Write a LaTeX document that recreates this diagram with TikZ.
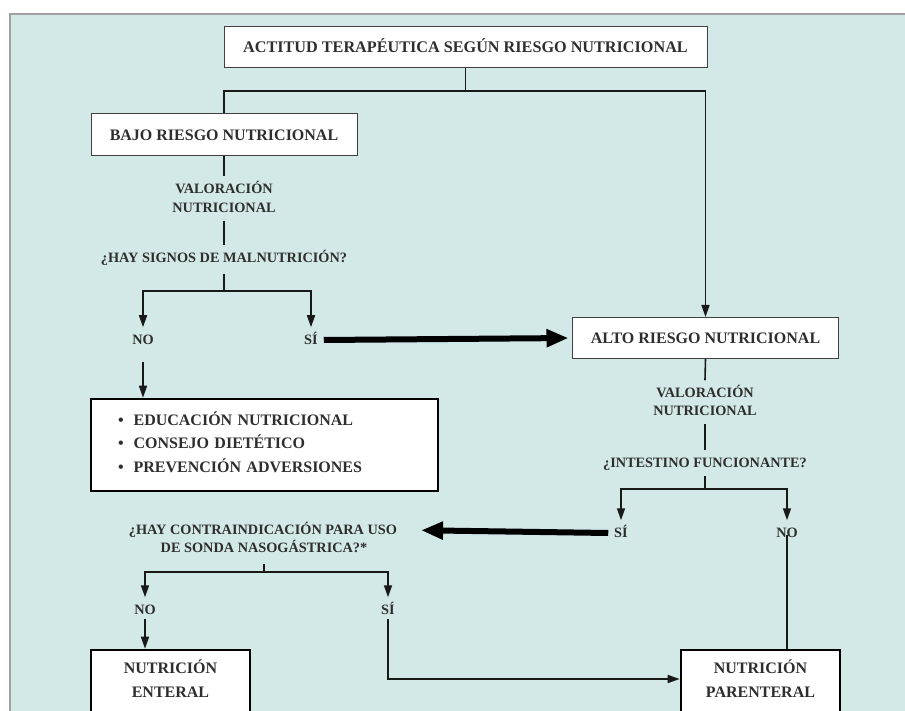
\documentclass[tikz,border=0pt]{standalone}
\usepackage{fontspec}
\setmainfont{Liberation Serif}
\usetikzlibrary{arrows.meta}
\definecolor{bgteal}{HTML}{D3E9E7}
\definecolor{txt}{HTML}{2E2E2E}
\definecolor{framegray}{HTML}{A0A0A0}
\tikzset{
  lbl/.style={font=\fontsize{14.3}{18}\selectfont\bfseries, text=txt, inner sep=0pt,
    outer xsep=6pt, outer ysep=8pt, text height=9.5pt, text depth=0pt},
  thinbox/.style={draw=black!75, line width=1pt, fill=white,
    font=\fontsize{16}{24}\selectfont\bfseries, text=txt, inner sep=0pt,
    text height=10.6pt, text depth=0pt},
  thickbox/.style={draw=black, line width=2.6pt, fill=white,
    font=\fontsize{16}{24}\selectfont\bfseries, text=txt, inner sep=0pt},
  conn/.style={line width=1.6pt, draw=black!90},
  arr/.style={conn, -{Triangle[length=12pt,width=8pt]}},
  bigarr/.style={line width=6pt, draw=black, -{Triangle[length=22pt,width=17pt]}}
}
\begin{document}
\begin{tikzpicture}[x=1pt,y=-1pt]
\useasboundingbox (0,0) rectangle (905,711);
\clip (0,0) rectangle (905,711);
\fill[white] (0,0) rectangle (905,711);
\fill[bgteal] (10,14) rectangle (915,720);
\draw[framegray, line width=2pt] (10,720) -- (10,14) -- (915,14);

% boxes
\node[thinbox, minimum width=483, minimum height=41, font=\fontsize{16.2}{24}\selectfont\bfseries] (title) at (465.5,47.5) {ACTITUD TERAPÉUTICA SEGÚN RIESGO NUTRICIONAL};
\node[thinbox, minimum width=266, minimum height=42] (bajo) at (224,135) {BAJO RIESGO NUTRICIONAL};
\node[thinbox, minimum width=266, minimum height=41] (alto) at (705.5,338) {ALTO RIESGO NUTRICIONAL};
\node[thickbox, minimum width=347, minimum height=92, text width=293pt, align=left,
  font=\fontsize{16}{23.5}\selectfont\bfseries, text height=10.6pt, text depth=50pt] (edu) at (264.5,445)
  {\textbullet\hspace{10pt}EDUCACIÓN NUTRICIONAL\\
   \textbullet\hspace{10pt}CONSEJO DIETÉTICO\\
   \textbullet\hspace{10pt}PREVENCIÓN ADVERSIONES};
\node[thickbox, minimum width=159, minimum height=66, align=center, text height=34.6pt, text depth=6pt] (enteral) at (170.5,683) {NUTRICIÓN\\ENTERAL};
\node[thickbox, minimum width=159, minimum height=66, align=center, text height=34.6pt, text depth=6pt] (parenteral) at (760.5,683) {NUTRICIÓN\\PARENTERAL};

% labels
\node[lbl] (v1a) at (224,189) {VALORACIÓN};
\node[lbl] (v1b) at (224,208) {NUTRICIONAL};
\node[lbl] (q1) at (224,258) {¿HAY SIGNOS DE MALNUTRICIÓN?};
\node[lbl] (no1) at (143,340) {NO};
\node[lbl] (si1) at (311,340) {SÍ};
\node[lbl] (v2a) at (705,393) {VALORACIÓN};
\node[lbl] (v2b) at (705,411) {NUTRICIONAL};
\node[lbl] (q2) at (705,463) {¿INTESTINO FUNCIONANTE?};
\node[lbl] (si2) at (621,533) {SÍ};
\node[lbl] (no2) at (787,533) {NO};
\node[lbl] (q3a) at (263,530) {¿HAY CONTRAINDICACIÓN PARA USO};
\node[lbl] (q3b) at (264,548) {DE SONDA NASOGÁSTRICA?*};
\node[lbl] (no3) at (145,610) {NO};
\node[lbl] (si3) at (388,610) {SÍ};

\coordinate (j1) at (465.5,91);
\coordinate (j2) at (224,291);
\coordinate (j3) at (705,489);
\coordinate (j4) at (264,572);

% connectors
\draw[conn] (title.south) -- (j1) -| (bajo.north);
\draw[arr] (j1) -| (alto.north);
\draw[conn] (bajo.south) -- (v1a.north);
\draw[conn] (v1b.south) -- (q1.north);
\draw[conn, shorten <=3pt] (q1.south) -- (j2);
\draw[arr] (j2) -| (no1.north);
\draw[arr] (j2) -| (si1.north);
\draw[bigarr, shorten >=3.5pt] (si1.east) -- (alto.west);
\draw[arr, shorten <=9pt] (no1.south) -- (no1.south |- edu.north);

\draw[conn] (alto.south) -- (v2a.north);
\draw[conn] (v2b.south) -- (q2.north);
\draw[conn] (q2.south) -- (j3);
\draw[arr] (j3) -| (si2.north);
\draw[arr] (j3) -| (no2.north);
\draw[bigarr, shorten >=18pt] (si2.west) -- (q3a.east);
\draw[conn] ([yshift=-2pt]no2.center) -- (no2.center |- parenteral.north);

\draw[conn, shorten <=3pt] (q3b.south) -- (j4);
\draw[arr] (j4) -| (no3.north);
\draw[arr] (j4) -| (si3.north);
\draw[arr, shorten <=-4pt] (no3.south) -- (no3.south |- enteral.north);
\draw[arr, shorten <=-4pt] (si3.south) |- ([yshift=4pt]parenteral.west);
\end{tikzpicture}
\end{document}
